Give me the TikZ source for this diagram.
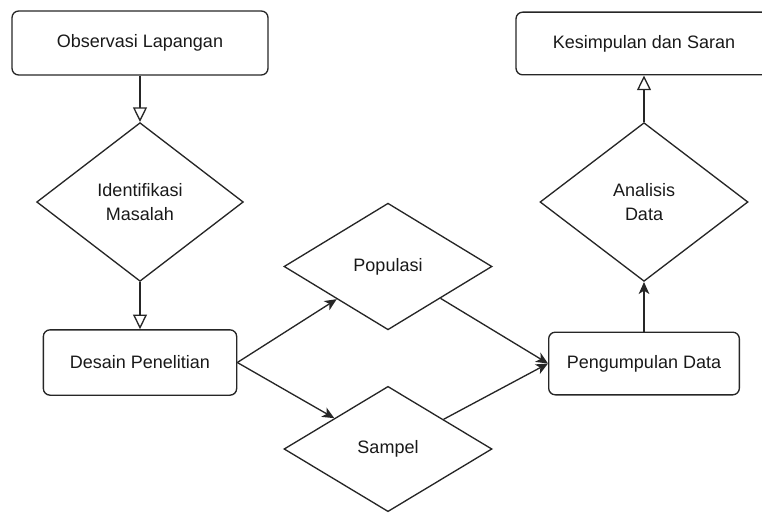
\documentclass[tikz,border=0pt]{standalone}
\usepackage{fontspec}
\setmainfont{Liberation Sans}
\usetikzlibrary{shapes.geometric, arrows.meta}

\begin{document}
\begin{tikzpicture}[x=0.75pt, y=-0.75pt, line width=1pt,
  font=\fontsize{13.5}{18}\selectfont,
  procbox/.style={draw=black!85, rounded corners=5pt, align=center, text=black!90, inner sep=0pt},
  decision/.style={draw=black!85, diamond, align=center, text=black!90, inner sep=0pt},
  openlink/.style={-{Triangle[open, length=11pt, width=10.5pt]}, draw=black!85},
  link/.style={-{Stealth[length=9pt, width=8pt, inset=2.5pt]}, draw=black!85}]

  \useasboundingbox (0,0) rectangle (762,513);
  \clip (0,0) rectangle (762,513);

  % -- Left column --
  \node[procbox, minimum width=192pt, minimum height=48pt] (observasi) at (140,43) {Observasi Lapangan};
  \node[decision, minimum width=155pt, minimum height=119pt] (identifikasi) at (140,202) {Identifikasi\\Masalah};
  \node[procbox, minimum width=145pt, minimum height=49pt] (desain) at (140,362.5) {Desain Penelitian};

  % -- Middle column --
  \node[decision, minimum width=156pt, minimum height=95pt] (populasi) at (388,266.5) {Populasi};
  \node[decision, minimum width=156pt, minimum height=94pt] (sampel) at (388,449) {Sampel};

  % -- Right column --
  \node[procbox, minimum width=143pt, minimum height=47pt] (pengumpulan) at (644,363.5) {Pengumpulan Data};
  \node[decision, minimum width=156pt, minimum height=119pt] (analisis) at (644,202) {Analisis\\Data};
  \node[procbox, minimum width=204pt, minimum height=47pt] (kesimpulan) at (652,43.5) {};
  \node[text=black!90] (kesimpulantext) at (kesimpulan.center -| analisis) {Kesimpulan dan Saran};

  % -- Connectors --
  \draw[openlink] (observasi) -- (identifikasi);
  \draw[openlink] (identifikasi) -- (desain);
  \draw[link] (desain.east) -- (populasi);
  \draw[link] (desain.east) -- (sampel);
  \draw[link] (populasi) -- (pengumpulan.west);
  \draw[link] (sampel) -- (pengumpulan.west);
  \draw[link] (pengumpulan) -- (analisis);
  \draw[openlink] (analisis) -- (analisis |- kesimpulan.south);

\end{tikzpicture}
\end{document}
